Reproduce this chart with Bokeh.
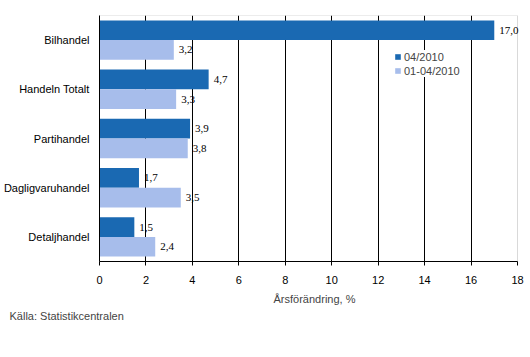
from bokeh.plotting import figure
from bokeh.models import ColumnDataSource, FactorRange, Range1d, FixedTicker, Title, Legend, LegendItem, LabelSet, BoxAnnotation
from bokeh.transform import dodge
from bokeh.embed import file_html
from bokeh.resources import INLINE

categories = ["Bilhandel", "Handeln Totalt", "Partihandel", "Dagligvaruhandel", "Detaljhandel"]
month_vals = [17.0, 4.7, 3.9, 1.7, 1.5]
ytd_vals = [3.2, 3.3, 3.8, 3.5, 2.4]
series_names = ["04/2010", "01-04/2010"]
x_ticks = [0, 2, 4, 6, 8, 10, 12, 14, 16, 18]

DARK = "#1a69b2"
LIGHT = "#a7bdeb"
FONT = "Liberation Sans"

X_MAX = 18
AXIS_PX = 418
EXTRA_PX = 12

def fmt(v):
    return f"{v:.1f}".replace(".", ",")

src = ColumnDataSource(dict(
    cat=categories,
    m=month_vals,
    y=ytd_vals,
    ml=[fmt(v) for v in month_vals],
    yl=[fmt(v) for v in ytd_vals],
))

p = figure(frame_width=AXIS_PX + EXTRA_PX, frame_height=246,
           output_backend="svg", toolbar_location=None,
           y_range=FactorRange(factors=list(reversed(categories))),
           x_range=Range1d(0, X_MAX * (AXIS_PX + EXTRA_PX) / AXIS_PX),
           min_border_left=88, min_border_right=0, min_border_top=15, min_border_bottom=10)

r1 = p.hbar(y=dodge("cat", 0.2, range=p.y_range), right="m", left=0, height=0.4,
            source=src, fill_color=DARK, line_color=None)
r2 = p.hbar(y=dodge("cat", -0.2, range=p.y_range), right="y", left=0, height=0.4,
            source=src, fill_color=LIGHT, line_color=None)

for col, lab, dd in (("m", "ml", 0.2), ("y", "yl", -0.2)):
    ls = LabelSet(x=col, y=dodge("cat", dd, range=p.y_range), text=lab, source=src,
                  x_offset=5, text_baseline="middle", text_align="left",
                  text_font=FONT, text_font_size="11px", text_color="black")
    p.add_layout(ls)

# plot-area border (gray) limited to 0..18
p.add_layout(BoxAnnotation(left=0, right=X_MAX, fill_alpha=0, line_color="#808080",
                           line_width=1, level="underlay"))

p.xaxis.ticker = FixedTicker(ticks=x_ticks)
p.xaxis.bounds = (0, X_MAX)
p.xaxis.axis_label = "Årsförändring, %"
p.xaxis.axis_label_text_font = FONT
p.xaxis.axis_label_text_font_style = "normal"
p.xaxis.axis_label_text_font_size = "11px"
p.xaxis.axis_label_standoff = 6
p.xaxis.major_label_text_font = FONT
p.xaxis.major_label_text_font_size = "11px"
p.xaxis.major_label_text_color = "black"
p.xaxis.major_label_standoff = 10
p.xaxis.major_tick_out = 4
p.xaxis.major_tick_in = 0
p.xaxis.minor_tick_line_color = None
p.xaxis.axis_line_color = "black"
p.xaxis.major_tick_line_color = "black"

p.yaxis.major_label_text_font = FONT
p.yaxis.major_label_text_font_size = "11px"
p.yaxis.major_label_text_color = "black"
p.yaxis.major_tick_line_color = None
p.yaxis.minor_tick_line_color = None
p.yaxis.axis_line_color = "black"
p.yaxis.major_label_standoff = 4

p.ygrid.grid_line_color = None
p.xgrid.ticker = FixedTicker(ticks=[2, 4, 6, 8, 10, 12, 14, 16])
p.xgrid.grid_line_color = "black"
p.xgrid.grid_line_width = 1

p.outline_line_color = None
p.background_fill_color = "white"
p.border_fill_color = "white"

legend = Legend(items=[LegendItem(label=series_names[0], renderers=[r1]),
                       LegendItem(label=series_names[1], renderers=[r2])],
                location=(295, 184))
legend.label_text_font = FONT
legend.label_text_font_size = "11px"
legend.glyph_width = 7
legend.glyph_height = 7
legend.label_standoff = 3
legend.label_height = 13
legend.spacing = 1
legend.padding = 2
legend.margin = 0
legend.border_line_color = None
legend.background_fill_color = "white"
legend.background_fill_alpha = 1
p.add_layout(legend, "center")

src_title = Title(text="Källa: Statistikcentralen", align="left", offset=-90,
                  standoff=1,
                  text_font=FONT, text_font_size="11px", text_font_style="normal")
p.add_layout(src_title, "below")

open("out.html", "w").write(file_html(p, INLINE))
